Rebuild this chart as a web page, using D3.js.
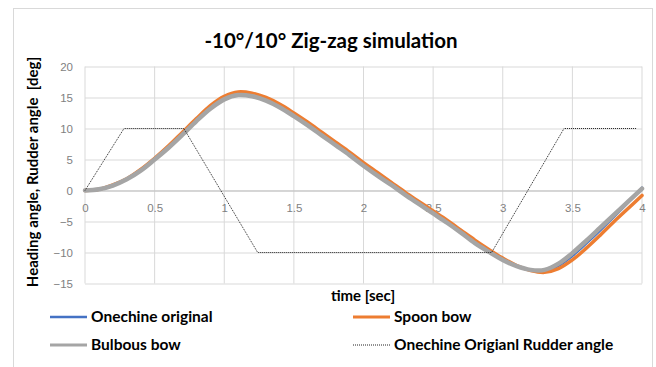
<!DOCTYPE html>
<html>
<head>
<meta charset="utf-8">
<script src="https://cdn.jsdelivr.net/npm/d3@7"></script>
<style>
  body { margin: 0; background: #fff; }
  svg { display: block; font-family: Lato, "Open Sans", sans-serif; }
</style>
</head>
<body>
<div id="main"></div>
<script>
"use strict";

// time axis (sec) for the three heading series
const timeSec = [0, 0.1, 0.2, 0.3, 0.4, 0.5, 0.6, 0.7, 0.8, 0.9, 1.0, 1.1, 1.2, 1.3, 1.4, 1.5, 1.6, 1.7, 1.8, 1.9, 2.0,
                 2.1, 2.2, 2.3, 2.4, 2.5, 2.6, 2.7, 2.8, 2.9, 3.0, 3.1, 3.2, 3.3, 3.4, 3.5, 3.6, 3.7, 3.8, 3.9, 4.0];

const onechineOriginal = [0, 0.15, 0.75, 1.75, 3.15, 4.95, 6.85, 8.95, 11.15, 13.15, 14.65, 15.35, 15.15, 14.45, 13.35, 11.95, 10.45, 8.85, 7.25, 5.65, 3.95,
                          2.35, 0.85, -0.75, -2.0, -3.5, -5.0, -6.6, -8.3, -9.8, -11.1, -12.2, -12.9, -13.0, -12.2, -10.6, -8.6, -6.5, -4.3, -2.0, 0.5];

const spoonBow = [0, 0.2, 0.9, 1.9, 3.4, 5.2, 7.2, 9.4, 11.6, 13.7, 15.2, 15.9, 15.7, 15.0, 13.9, 12.5, 11.0, 9.4, 7.8, 6.2, 4.5,
                  2.9, 1.3, -0.3, -1.8, -3.3, -4.8, -6.4, -8.0, -9.5, -10.9, -12.1, -12.9, -13.2, -12.6, -11.2, -9.3, -7.2, -5.0, -2.9, -0.8];

const bulbousBow = [0, 0.2, 0.8, 1.8, 3.2, 5.0, 6.9, 9.0, 11.2, 13.2, 14.7, 15.4, 15.2, 14.5, 13.4, 12.0, 10.5, 8.9, 7.3, 5.7, 4.0,
                    2.4, 0.9, -0.7, -2.2, -3.7, -5.2, -6.8, -8.5, -9.9, -11.2, -12.2, -12.8, -12.8, -11.8, -10.1, -8.1, -6.0, -3.9, -1.8, 0.3];

// rudder angle breakpoints
const rudderTime = [0, 0.28, 0.71, 1.24, 2.92, 3.44, 3.96];
const rudderAngle = [0, 10, 10, -10, -10, 10, 10];

const xTicks = [0, 0.5, 1, 1.5, 2, 2.5, 3, 3.5, 4];
const yTicks = [-15, -10, -5, 0, 5, 10, 15, 20];

const seriesNames = ["Onechine original", "Spoon bow", "Bulbous bow", "Onechine Origianl Rudder angle"];

function main() {
    const width = 656, height = 367;
    const svg = d3.select("#main").append("svg")
        .attr("width", width)
        .attr("height", height);

    // chart frame
    svg.append("rect")
        .attr("x", 13.5).attr("y", 8.5)
        .attr("width", 639).attr("height", 370)
        .attr("fill", "#fff")
        .attr("stroke", "#d9d9d9");

    const x = d3.scaleLinear().domain([0, 4]).range([85, 642]);
    const y = d3.scaleLinear().domain([-15, 20]).range([283.5, 66.5]);

    // horizontal grid + y labels
    const yAxis = svg.append("g")
        .attr("transform", `translate(${x(0)},0)`)
        .call(d3.axisLeft(y).tickValues(yTicks).tickSize(-(x(4) - x(0))).tickPadding(12));
    yAxis.select(".domain").remove();
    yAxis.selectAll("line").attr("stroke", "#d9d9d9");
    yAxis.selectAll("text").attr("fill", "#7f7f7f").style("font-size", "11.5px");

    // vertical grid lines
    svg.append("g")
        .selectAll("line")
        .data(xTicks)
        .join("line")
        .attr("x1", d => x(d)).attr("x2", d => x(d))
        .attr("y1", y(20)).attr("y2", y(-15))
        .attr("stroke", "#d9d9d9");

    // x axis crossing at 0
    const xAxis = svg.append("g")
        .attr("transform", `translate(0,${y(0)})`)
        .call(d3.axisBottom(x).tickValues(xTicks).tickSize(0).tickPadding(13).tickFormat(d3.format("")));
    xAxis.select(".domain").attr("stroke", "#bfbfbf");
    xAxis.selectAll("text").attr("fill", "#7f7f7f").style("font-size", "11.5px");

    const line = d3.line()
        .x(d => x(d[0]))
        .y(d => y(d[1]))
        .curve(d3.curveCatmullRom);

    const series = [
        { values: onechineOriginal, color: "#4472c4", w: 2 },
        { values: spoonBow, color: "#ed7d31", w: 3.5 },
        { values: bulbousBow, color: "#a5a5a5", w: 4.5 }
    ];

    svg.append("g")
        .attr("fill", "none")
        .selectAll("path")
        .data(series)
        .join("path")
        .attr("d", s => line(timeSec.map((t, i) => [t, s.values[i]])))
        .attr("stroke", s => s.color)
        .attr("stroke-width", s => s.w)
        .attr("stroke-linejoin", "round")
        .attr("stroke-linecap", "round");

    // rudder angle, dotted
    svg.append("path")
        .attr("d", d3.line().x(d => x(d[0])).y(d => y(d[1]))(rudderTime.map((t, i) => [t, rudderAngle[i]])))
        .attr("fill", "none")
        .attr("stroke", "#222")
        .attr("stroke-width", 1)
        .attr("stroke-dasharray", "1,1");

    // title
    svg.append("text")
        .attr("x", 331).attr("y", 48)
        .attr("text-anchor", "middle")
        .style("font-size", "20.5px").style("font-weight", "bold")
        .text("-10°/10° Zig-zag simulation");

    // axis titles
    svg.append("text")
        .attr("transform", "translate(38,172) rotate(-90)")
        .attr("text-anchor", "middle")
        .style("font-size", "15px").style("font-weight", "bold")
        .style("white-space", "pre")
        .text("Heading angle, Rudder angle  [deg]");

    svg.append("text")
        .attr("x", 363).attr("y", 301)
        .attr("text-anchor", "middle")
        .style("font-size", "15px").style("font-weight", "bold")
        .text("time [sec]");

    // legend
    const legendItems = [
        { name: seriesNames[0], color: "#4472c4", w: 2.5, dash: null, lx: 50, ly: 317 },
        { name: seriesNames[1], color: "#ed7d31", w: 3, dash: null, lx: 353, ly: 317 },
        { name: seriesNames[2], color: "#a5a5a5", w: 3, dash: null, lx: 50, ly: 345 },
        { name: seriesNames[3], color: "#222", w: 1, dash: "1,1", lx: 353, ly: 345 }
    ];
    const leg = svg.append("g").selectAll("g").data(legendItems).join("g")
        .attr("transform", d => `translate(${d.lx},${d.ly})`);
    leg.append("line")
        .attr("x1", 0).attr("x2", 37)
        .attr("stroke", d => d.color)
        .attr("stroke-width", d => d.w)
        .attr("stroke-dasharray", d => d.dash);
    leg.append("text")
        .attr("x", 41).attr("dy", "0.35em")
        .style("font-size", "15.5px").style("font-weight", "bold")
        .text(d => d.name);
}

main();
</script>
</body>
</html>
